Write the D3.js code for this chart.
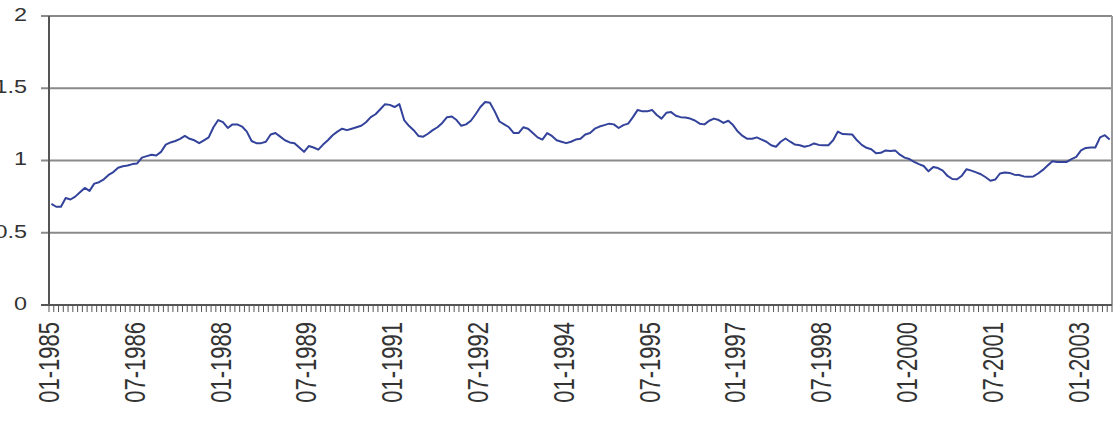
<!DOCTYPE html>
<meta charset="utf-8">
<head>
<script src="https://cdn.jsdelivr.net/npm/d3@7"></script>
<style>
body { margin: 0; background: #fff; }
text { font-family: "Liberation Sans", Arial, sans-serif; fill: #333; }
</style>
</head>
<body>
<script>
// Monthly series, 01-1985 .. 07-2003
const startMonth = new Date(1985, 0, 1);
const values = [
  0.70,0.68,0.68,0.74,0.73,0.75,0.78,0.81,0.79,0.84,0.85,0.87,0.90,0.92,0.95,0.96,0.965,0.975,0.98,1.02,
  1.03,1.04,1.035,1.06,1.11,1.125,1.135,1.15,1.17,1.15,1.14,1.12,1.14,1.16,1.23,1.28,1.265,
  1.225,1.25,1.25,1.235,1.20,1.135,1.12,1.12,1.13,1.18,1.19,1.165,1.14,1.125,1.12,1.09,1.06,1.10,1.09,1.075,
  1.11,1.14,1.175,1.20,1.22,1.21,1.22,1.23,1.24,1.265,1.30,1.32,1.355,1.39,1.385,1.37,1.39,1.28,
  1.24,1.21,1.17,1.165,1.185,1.21,1.23,1.26,1.30,1.305,1.28,1.24,1.25,1.275,1.32,1.37,1.405,1.40,1.34,1.27,
  1.25,1.23,1.19,1.19,1.23,1.22,1.19,1.16,1.145,1.19,1.17,1.14,1.13,1.12,1.13,1.145,1.15,1.18,
  1.19,1.22,1.235,1.245,1.255,1.25,1.225,1.245,1.255,1.30,1.35,1.34,1.34,1.35,1.315,1.29,1.33,1.335,1.31,1.30,
  1.297,1.29,1.277,1.255,1.25,1.275,1.29,1.28,1.26,1.275,1.245,1.20,1.17,1.15,1.15,1.16,1.145,
  1.13,1.105,1.095,1.13,1.152,1.13,1.11,1.106,1.095,1.103,1.118,1.108,1.106,1.106,1.14,1.20,1.183,1.182,1.18,1.14,
  1.108,1.088,1.078,1.05,1.053,1.07,1.066,1.07,1.04,1.02,1.01,0.99,0.975,0.962,0.925,0.955,0.948,0.93,
  0.893,0.872,0.87,0.895,0.94,0.93,0.918,0.905,0.884,0.86,0.868,0.91,0.917,0.914,0.902,0.90,0.89,0.887,0.89,0.91,
  0.935,0.965,0.995,0.99,0.99,0.99,1.01,1.025,1.07,1.087,1.09,1.09,1.16,1.175,1.145
];
const tickLabels = ["01-1985","07-1986","01-1988","07-1989","01-1991","07-1992","01-1994",
                    "07-1995","01-1997","07-1998","01-2000","07-2001","01-2003"];
const yTicks = [0, 0.5, 1, 1.5, 2];

const fmt = d3.timeFormat("%m-%Y");
const months = values.map((v, i) => fmt(d3.timeMonth.offset(startMonth, i)));
const data = values.map((v, i) => ({month: months[i], value: v}));

const W = 1118, H = 432;
const plot = {left: 49, right: 1112, top: 16, bottom: 305};

const svg = d3.select("body").append("svg")
    .attr("width", W)
    .attr("height", H);

const x = d3.scaleBand()
    .domain(months)
    .range([plot.left, plot.right])
    .padding(0);

const y = d3.scaleLinear()
    .domain([0, 2])
    .range([plot.bottom, plot.top]);

// gridlines + y ticks
svg.append("g").selectAll("line")
    .data(yTicks.filter(d => d > 0))
    .enter().append("line")
    .attr("x1", plot.left - 8)
    .attr("x2", plot.right)
    .attr("y1", d => y(d))
    .attr("y2", d => y(d))
    .attr("stroke", "#8a8a8a")
    .attr("stroke-width", 2);

// right border of plot area
svg.append("line")
    .attr("x1", plot.right).attr("x2", plot.right)
    .attr("y1", plot.top).attr("y2", plot.bottom)
    .attr("stroke", "#9a9a9a")
    .attr("stroke-width", 2);

// y labels
svg.append("g").selectAll("text")
    .data(yTicks)
    .enter().append("text")
    .attr("transform", d => `translate(27,${y(d)}) scale(1.3,1)`)
    .attr("text-anchor", "end")
    .attr("dominant-baseline", "middle")
    .style("font-size", "18px")
    .text(d => d);

// monthly tick marks on category boundaries
const boundaries = months.map(m => x(m)).concat([plot.right]);
svg.append("g").selectAll("line")
    .data(boundaries)
    .enter().append("line")
    .attr("x1", d => d).attr("x2", d => d)
    .attr("y1", plot.bottom)
    .attr("y2", plot.bottom + 7)
    .attr("stroke", "#555")
    .attr("stroke-width", 1);

// axes lines
svg.append("line")
    .attr("x1", plot.left - 8).attr("x2", plot.right)
    .attr("y1", plot.bottom).attr("y2", plot.bottom)
    .attr("stroke", "#555").attr("stroke-width", 2);
svg.append("line")
    .attr("x1", plot.left).attr("x2", plot.left)
    .attr("y1", plot.top).attr("y2", plot.bottom)
    .attr("stroke", "#555").attr("stroke-width", 2);

// x labels, rotated
svg.append("g").selectAll("text")
    .data(tickLabels)
    .enter().append("text")
    .attr("transform", d => `translate(${x(d) + x.bandwidth() / 2},322) scale(1.3,1) rotate(-90)`)
    .attr("text-anchor", "end")
    .attr("dominant-baseline", "middle")
    .style("font-size", "22px")
    .text(d => d);

// series line
const line = d3.line()
    .x(d => x(d.month) + x.bandwidth() / 2)
    .y(d => y(d.value));

svg.append("path")
    .datum(data)
    .attr("d", line)
    .attr("fill", "none")
    .attr("stroke", "#33429a")
    .attr("stroke-width", 2)
    .attr("stroke-linejoin", "round");
</script>
</body>
</html>
